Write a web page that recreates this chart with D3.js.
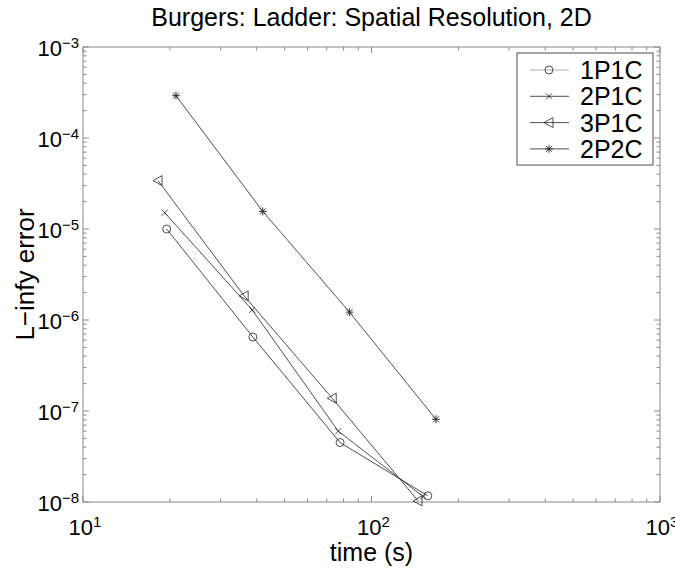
<!DOCTYPE html>
<html>
<head>
<meta charset="utf-8">
<script src="https://cdn.jsdelivr.net/npm/d3@7"></script>
<style>
  body { margin: 0; background: #fff; }
  text { font-family: "Liberation Sans", Arial, Helvetica, sans-serif; fill: #000; }
</style>
</head>
<body>
<div class="viz"></div>
<script>
// data (time in s, L-infinity error)
var seriesNames = ["1P1C", "2P1C", "3P1C", "2P2C"];
var time1P1C = [19.5, 38.8, 77.8, 156.7];
var err1P1C  = [1.0e-5, 6.5e-7, 4.5e-8, 1.17e-8];
var time2P1C = [19.2, 38.6, 76.7, 151];
var err2P1C  = [1.51e-5, 1.29e-6, 6.0e-8, 1.15e-8];
var time3P1C = [18.2, 36.2, 73.1, 145];
var err3P1C  = [3.4e-5, 1.84e-6, 1.38e-7, 1.03e-8];
var time2P2C = [21.0, 42.0, 83.9, 167.3];
var err2P2C  = [2.92e-4, 1.56e-5, 1.22e-6, 8.1e-8];
var markers  = ["circle", "cross", "triangle", "star"];
var xTickExps = [1, 2, 3];
var yTickExps = [-3, -4, -5, -6, -7, -8];

var series = [
    { name: seriesNames[0], t: time1P1C, e: err1P1C, marker: markers[0] },
    { name: seriesNames[1], t: time2P1C, e: err2P1C, marker: markers[1] },
    { name: seriesNames[2], t: time3P1C, e: err3P1C, marker: markers[2] },
    { name: seriesNames[3], t: time2P2C, e: err2P2C, marker: markers[3] }
];

var margin = {top: 47, right: 15, bottom: 67, left: 83},
    width = 675 - margin.left - margin.right,
    height = 569 - margin.top - margin.bottom;

var svg = d3.select(".viz").append("svg")
    .attr("width", 675)
    .attr("height", 569);

var g = svg.append("g")
    .attr("transform", "translate(" + margin.left + "," + margin.top + ")");

var x = d3.scaleLog().domain([10, 1000]).range([0, width]);
var y = d3.scaleLog().domain([1e-8, 1e-3]).range([height, 0]);

// minor + major ticks, pointing inward on all four sides
var axisColor = "#8a8a8a";
function logTicks(lo, hi) {
    var out = [];
    for (var k = lo; k < hi; k++) {
        for (var m = 1; m < 10; m++) out.push({ v: m * Math.pow(10, k), major: m === 1 });
    }
    out.push({ v: Math.pow(10, hi), major: true });
    return out;
}
var xt = logTicks(1, 3), yt = logTicks(-8, -3);

g.selectAll(".xtick-b").data(xt).enter().append("line")
    .attr("x1", function(d) { return x(d.v); }).attr("x2", function(d) { return x(d.v); })
    .attr("y1", height).attr("y2", function(d) { return height - (d.major ? 6 : 3.5); })
    .attr("stroke", axisColor);
g.selectAll(".xtick-t").data(xt).enter().append("line")
    .attr("x1", function(d) { return x(d.v); }).attr("x2", function(d) { return x(d.v); })
    .attr("y1", 0).attr("y2", function(d) { return d.major ? 6 : 3.5; })
    .attr("stroke", axisColor);
g.selectAll(".ytick-l").data(yt).enter().append("line")
    .attr("y1", function(d) { return y(d.v); }).attr("y2", function(d) { return y(d.v); })
    .attr("x1", 0).attr("x2", function(d) { return d.major ? 6 : 3.5; })
    .attr("stroke", axisColor);
g.selectAll(".ytick-r").data(yt).enter().append("line")
    .attr("y1", function(d) { return y(d.v); }).attr("y2", function(d) { return y(d.v); })
    .attr("x1", width).attr("x2", function(d) { return width - (d.major ? 6 : 3.5); })
    .attr("stroke", axisColor);

g.append("rect")
    .attr("width", width).attr("height", height)
    .attr("fill", "none").attr("stroke", axisColor);

// tick labels 10^k
function powLabel(sel, exp) {
    sel.append("tspan").text("10");
    sel.append("tspan").attr("dy", "-0.55em").attr("font-size", "15px").text(exp < 0 ? "\u2212" + (-exp) : exp);
}
xTickExps.forEach(function(k) {
    var t = g.append("text")
        .attr("x", x(Math.pow(10, k)) + 2)
        .attr("y", height + 33)
        .attr("text-anchor", "middle")
        .attr("font-size", "22px");
    powLabel(t, k);
});
yTickExps.forEach(function(k) {
    var t = g.append("text")
        .attr("x", -4)
        .attr("y", y(Math.pow(10, k)) + 9)
        .attr("text-anchor", "end")
        .attr("font-size", "22px");
    powLabel(t, k);
});

// lines + markers
var line = d3.line()
    .x(function(d) { return x(d[0]); })
    .y(function(d) { return y(d[1]); });

function drawMarker(sel, type) {
    if (type === "circle") {
        sel.append("circle").attr("r", 4).attr("fill", "none").attr("stroke", "#222").attr("stroke-width", 0.8);
    } else if (type === "cross") {
        sel.append("path").attr("d", "M-3,-3L3,3M-3,3L3,-3").attr("stroke", "#222").attr("stroke-width", 0.8);
    } else if (type === "triangle") {
        sel.append("path").attr("d", "M-5,0L4,-5L4,5Z").attr("fill", "none").attr("stroke", "#222").attr("stroke-width", 0.8);
    } else {
        sel.append("path").attr("d", "M-4,0L4,0M0,-4L0,4M-3,-3L3,3M-3,3L3,-3").attr("stroke", "#222").attr("stroke-width", 0.9);
    }
}

series.forEach(function(s) {
    var pts = s.t.map(function(t, i) { return [t, s.e[i]]; });
    g.append("path")
        .datum(pts)
        .attr("d", line)
        .attr("fill", "none")
        .attr("stroke", "#222")
        .attr("stroke-width", 0.8);
    pts.forEach(function(p) {
        var m = g.append("g").attr("transform", "translate(" + x(p[0]) + "," + y(p[1]) + ")");
        drawMarker(m, s.marker);
    });
});

// legend
var lg = svg.append("g").attr("transform", "translate(517,53)");
lg.append("rect").attr("width", 136).attr("height", 112)
    .attr("fill", "#fff").attr("stroke", "#222").attr("stroke-width", 0.8);
series.forEach(function(s, i) {
    var row = lg.append("g").attr("transform", "translate(0," + (17 + i * 26.3) + ")");
    row.append("line").attr("x1", 13).attr("x2", 52).attr("stroke", i === 0 ? "#999" : "#222").attr("stroke-width", 0.8);
    var m = row.append("g").attr("transform", "translate(32,0)");
    drawMarker(m, s.marker);
    row.append("text").attr("x", 63).attr("y", 9).attr("font-size", "25px").text(s.name);
});

// titles
svg.append("text")
    .attr("x", margin.left + width / 2).attr("y", 26)
    .attr("text-anchor", "middle").attr("font-size", "25px")
    .text("Burgers: Ladder: Spatial Resolution, 2D");
svg.append("text")
    .attr("x", margin.left + width / 2).attr("y", 561)
    .attr("text-anchor", "middle").attr("font-size", "25px")
    .text("time (s)");
svg.append("text")
    .attr("transform", "translate(34," + (margin.top + height / 2) + ") rotate(-90)")
    .attr("text-anchor", "middle").attr("font-size", "26px")
    .text("L\u2212infy error");
</script>
</body>
</html>
